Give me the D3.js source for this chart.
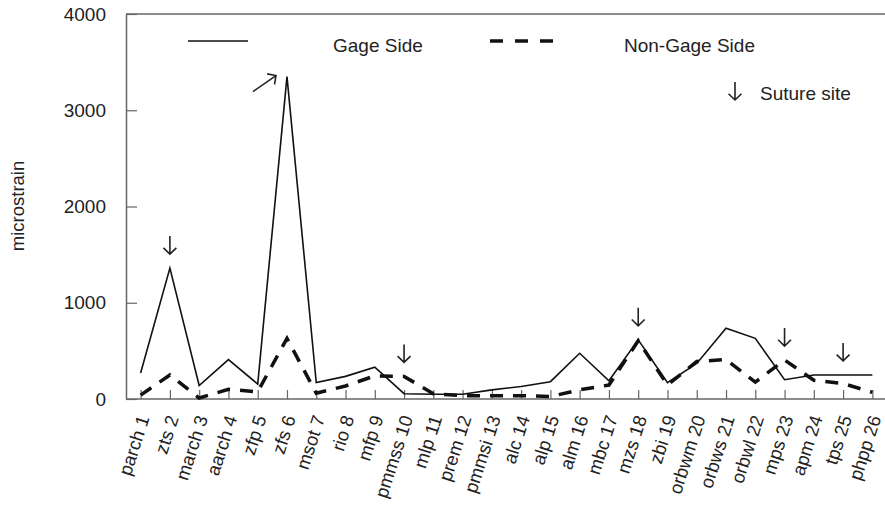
<!DOCTYPE html>
<html>
<head>
<meta charset="utf-8">
<script src="https://cdn.jsdelivr.net/npm/d3@7"></script>
<style>
	body { margin: 0; background: #fff; }
	text { font-family: "Liberation Sans", Arial, sans-serif; fill: #222; }
</style>
</head>
<body>
<div id="chart"></div>
<script>
// sites along the skull, in order
const sites = ["parch 1","zts 2","march 3","aarch 4","zfp 5","zfs 6","msot 7","rio 8","mfp 9",
	"pmmss 10","mlp 11","prem 12","pmmsi 13","alc 14","alp 15","alm 16","mbc 17","mzs 18",
	"zbi 19","orbwm 20","orbws 21","orbwl 22","mps 23","apm 24","tps 25","phpp 26"];

const gageSide = [270,1360,140,410,155,3350,170,235,330,55,50,50,95,130,180,475,190,615,
	170,370,735,630,200,250,250,250];
const nonGageSide = [40,250,10,100,75,630,60,135,240,235,55,35,35,35,25,95,145,605,
	145,390,410,175,405,195,160,70];

// sites marked with a suture arrow
const sutureSites = ["zts 2","pmmss 10","mzs 18","mps 23","tps 25"];
const yTicks = [0,1000,2000,3000,4000];

const width = 885, height = 508;
const plotLeft = 126, plotTop = 14, plotBottom = 399, plotRight = 887;

const svg = d3.select("#chart").append("svg")
	.attr("width", width).attr("height", height);

const x = d3.scalePoint().domain(sites).range([plotLeft, plotRight]).padding(0.5);
const y = d3.scaleLinear().domain([0, 4000]).range([plotBottom, plotTop]);

const axisColor = "#666";

// frame: top line, left and bottom axes
svg.append("line").attr("x1", plotLeft).attr("x2", width).attr("y1", plotTop).attr("y2", plotTop)
	.attr("stroke", axisColor).attr("stroke-width", 1.5);

const yAxis = svg.append("g").attr("transform", "translate(" + plotLeft + ",0)")
	.call(d3.axisLeft(y).tickValues(yTicks).tickFormat(d3.format("d"))
		.tickSizeInner(-11).tickSizeOuter(0).tickPadding(20));
yAxis.select(".domain").attr("stroke", axisColor).attr("stroke-width", 1.5);
yAxis.selectAll(".tick line").attr("stroke", axisColor).attr("stroke-width", 1.2);
yAxis.selectAll(".tick text").attr("font-size", 19).attr("fill", "#222")
	.attr("font-family", "Liberation Sans, Arial, sans-serif");

const xAxis = svg.append("g").attr("transform", "translate(0," + plotBottom + ")")
	.call(d3.axisBottom(x).tickSizeInner(-9).tickSizeOuter(0).tickFormat(""));
xAxis.select(".domain").attr("stroke", axisColor).attr("stroke-width", 1.5)
	.attr("d", "M" + plotLeft + ",0H" + width);
xAxis.selectAll(".tick line").attr("stroke", axisColor).attr("stroke-width", 1.2);

svg.append("g").selectAll("text").data(sites).join("text")
	.attr("transform", d => "translate(" + (x(d) + 9) + ",418) rotate(-72)")
	.attr("text-anchor", "end")
	.attr("font-size", 18.5)
	.text(d => d);

svg.append("text")
	.attr("transform", "translate(24,206) rotate(-90)")
	.attr("text-anchor", "middle")
	.attr("font-size", 18.5)
	.text("microstrain");

// data lines
const line = d3.line().x((d, i) => x(sites[i])).y(d => y(d));

svg.append("path").datum(nonGageSide)
	.attr("d", line).attr("fill", "none")
	.attr("stroke", "#111").attr("stroke-width", 3.5).attr("stroke-dasharray", "13,10");

svg.append("path").datum(gageSide)
	.attr("d", line).attr("fill", "none")
	.attr("stroke", "#111").attr("stroke-width", 1.6);

// arrow drawing helper
function arrow(g, x1, y1, x2, y2) {
	const a = Math.atan2(y2 - y1, x2 - x1), h = 9, s = 0.8;
	g.append("path")
		.attr("d", "M" + x1 + "," + y1 + "L" + x2 + "," + y2 +
			"M" + (x2 - h * Math.cos(a - s)) + "," + (y2 - h * Math.sin(a - s)) +
			"L" + x2 + "," + y2 +
			"L" + (x2 - h * Math.cos(a + s)) + "," + (y2 - h * Math.sin(a + s)))
		.attr("fill", "none").attr("stroke", "#222").attr("stroke-width", 1.6);
}

const arrows = svg.append("g");
sutureSites.forEach(s => {
	const i = sites.indexOf(s);
	const yy = y(Math.max(gageSide[i], nonGageSide[i])) - 14;
	arrow(arrows, x(s), yy - 18, x(s), yy);
});

// pointer to the zfs peak
const pk = sites.indexOf("zfs 6");
arrow(arrows, x(sites[pk]) - 34, y(gageSide[pk]) + 15, x(sites[pk]) - 11, y(gageSide[pk]) - 1);

// legend
const lg = svg.append("g");
lg.append("line").attr("x1", 188).attr("x2", 248).attr("y1", 41).attr("y2", 41)
	.attr("stroke", "#111").attr("stroke-width", 1.6);
lg.append("text").attr("x", 333).attr("y", 52).attr("font-size", 19).text("Gage Side");
lg.append("line").attr("x1", 490).attr("x2", 555).attr("y1", 41).attr("y2", 41)
	.attr("stroke", "#111").attr("stroke-width", 3.5).attr("stroke-dasharray", "13,12");
lg.append("text").attr("x", 624).attr("y", 52).attr("font-size", 19).text("Non-Gage Side");
arrow(lg, 735, 82, 735, 100);
lg.append("text").attr("x", 760).attr("y", 100).attr("font-size", 19).text("Suture site");
</script>
</body>
</html>
